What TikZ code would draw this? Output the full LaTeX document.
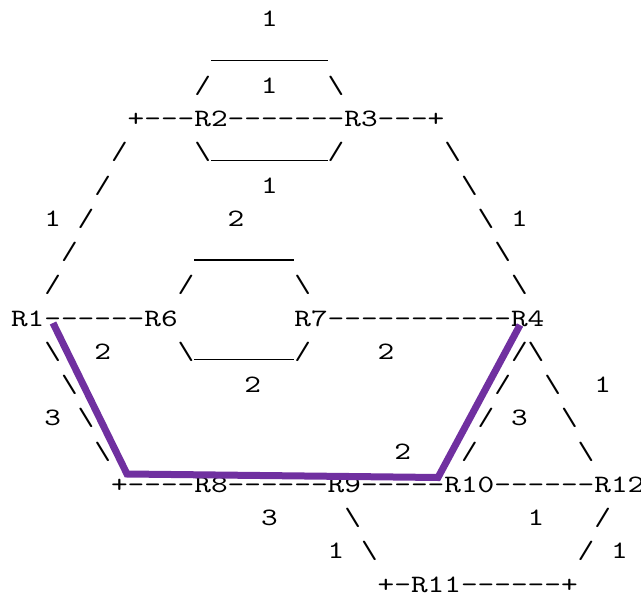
\documentclass[tikz,border=0pt]{standalone}
\usepackage{xcolor}
\usepackage{tikz}

\definecolor{pathpurple}{RGB}{112,48,160}
\font\asciifont="[lmmono10-regular]:extend=1.27" at 25pt
\newlength\cw
\settowidth\cw{\asciifont -}
\newcommand\sk[1]{\hspace*{#1\cw}}
\newcommand\bsl{\char92\relax}
\newcommand\ul[1]{\rule[-1.2pt]{#1\cw}{1.3pt}}

\begin{document}
\begin{tikzpicture}[x=1pt,y=-1pt,
  asc/.style={font=\asciifont,anchor=base west,inner sep=0pt,outer sep=0pt},
  route/.style={draw=pathpurple,line width=7pt}]
\useasboundingbox (0,0) rectangle (641,600);
% ascii rows
\node[asc] (r0) at (11,26.75) {\sk{15}1};
\node[asc] (r1) at (11,60) {\sk{12}\ul{7}};
\node[asc] (r2) at (11,93.25) {\sk{11}/\sk{3}1\sk{3}\bsl};
\node[asc] (r3) at (11,126.5) {\sk{7}+---R2-------R3---+};
\node[asc] (r4) at (11,159.75) {\sk{6}/\sk{4}\bsl\ul{7}/\sk{6}\bsl};
\node[asc] (r5) at (11,193) {\sk{5}/\sk{9}1\sk{11}\bsl};
\node[asc] (r6) at (11,226.25) {\sk{2}1\sk{1}/\sk{8}2\sk{14}\bsl\sk{1}1};
\node[asc] (r7) at (11,259.5) {\sk{3}/\sk{7}\ul{6}\sk{12}\bsl};
\node[asc] (r8) at (11,292.75) {\sk{2}/\sk{7}/\sk{6}\bsl\sk{12}\bsl};
\node[asc] (r9) at (11,326) {R1------R6\sk{7}R7-----------R4};
\node[asc] (r10) at (11,359.25) {\sk{2}\bsl\sk{2}2\sk{4}\bsl\ul{6}/\sk{4}2\sk{7}/\bsl};
\node[asc] (r11) at (11,392.5) {\sk{3}\bsl\sk{10}2\sk{14}/\sk{2}\bsl\sk{2}1};
\node[asc] (r12) at (11,425.75) {\sk{2}3\sk{1}\bsl\sk{23}/\sk{1}3\sk{2}\bsl};
\node[asc] (r13) at (11,459) {\sk{5}\bsl\sk{17}2\sk{3}/\sk{6}\bsl};
\node[asc] (r14) at (11,492.25) {\sk{6}+----R8------R9-----R10------R12};
\node[asc] (r15) at (11,525.5) {\sk{15}3\sk{4}\bsl\sk{10}1\sk{3}/};
\node[asc] (r16) at (11,558.75) {\sk{19}1\sk{1}\bsl\sk{12}/\sk{1}1};
\node[asc] (r17) at (11,592) {\sk{22}+-R11------+};
% highlighted route
\coordinate (s1) at (53,323);
\coordinate (s2) at (127,474);
\coordinate (s3) at (438,477.5);
\coordinate (s4) at (520,325);
\draw[route] (s1) -- (s2) -- (s3) -- (s4);
\end{tikzpicture}
\end{document}
